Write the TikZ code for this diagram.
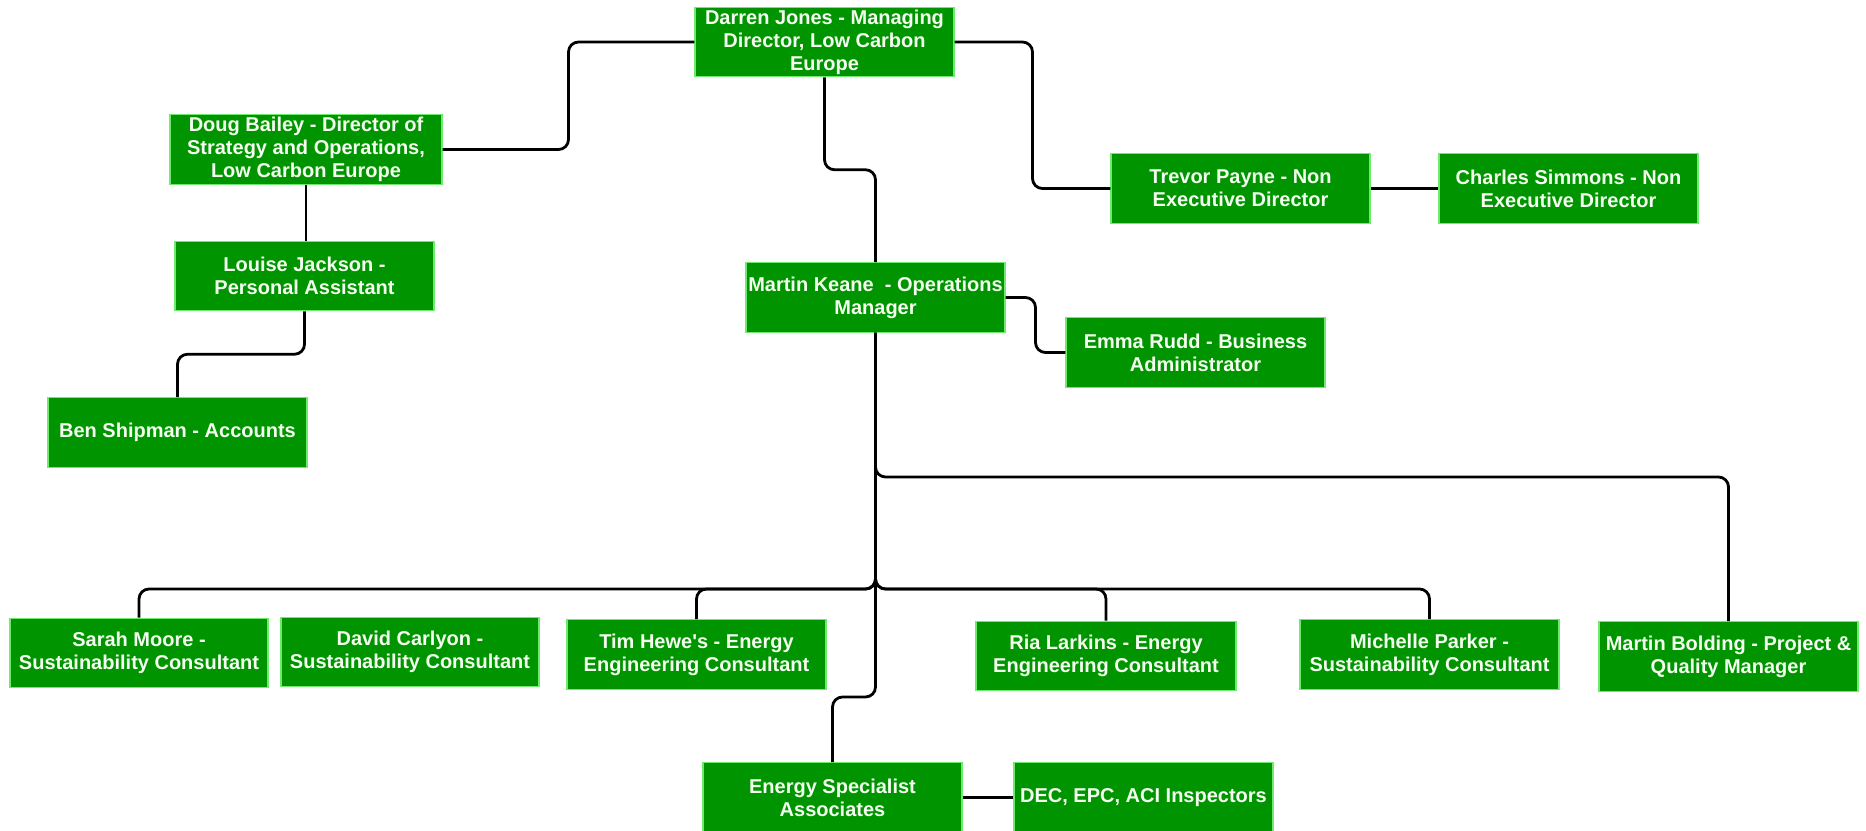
\documentclass[tikz,border=0pt]{standalone}
\usepackage{fontspec}
\setmainfont{Liberation Sans}
\usetikzlibrary{calc}
\definecolor{boxgreen}{RGB}{0,148,0}
\definecolor{boxedge}{RGB}{110,235,110}
\definecolor{boxtext}{RGB}{244,255,240}
\tikzset{
  orgbox/.style={rectangle, fill=boxgreen, draw=boxedge, line width=0.6pt,
    text=boxtext, font=\bfseries\fontsize{10pt}{11.5pt}\selectfont,
    align=center, inner sep=0pt, minimum width=129.5pt, minimum height=34.75pt},
  conn/.style={draw=black, line width=1.4pt, rounded corners=5pt},
  thinconn/.style={draw=black, line width=0.9pt}
}
\begin{document}
\begin{tikzpicture}[x=0.5pt, y=-0.5pt]
\useasboundingbox[fill=white] (0,0) rectangle (1866,830);

\coordinate (busmid) at (875.5,589);
\coordinate (boldbus) at (875.5,477);
\coordinate (enbus) at (875.5,697);

\node[orgbox] (darren) at (824.5,42) {Darren Jones - Managing\\Director, Low Carbon\\Europe};
\node[orgbox, minimum width=136pt] (doug) at (306,149.5) {Doug Bailey - Director of\\Strategy and Operations,\\Low Carbon Europe};
\node[orgbox] (louise) at (304.5,276) {Louise Jackson -\\Personal Assistant};
\node[orgbox] (keane) at (875.5,297.5) {Martin Keane\ \ - Operations\\Manager};
\node[orgbox] (trevor) at (1240.5,188.5) {Trevor Payne - Non\\Executive Director};
\node[orgbox] (charles) at (1568.5,188.5) {Charles Simmons - Non\\Executive Director};
\node[orgbox] (emma) at (1195.5,352.5) {Emma Rudd - Business\\Administrator};
\node[orgbox] (ben) at (177.5,432.5) {Ben Shipman - Accounts};
\node[orgbox, minimum width=129pt] (sarah) at (139,653) {Sarah Moore -\\Sustainability Consultant};
\node[orgbox, minimum width=129pt] (david) at (410,652) {David Carlyon -\\Sustainability Consultant};
\node[orgbox] (tim) at (696.5,654.5) {Tim Hewe\textquotesingle s - Energy\\Engineering Consultant};
\node[orgbox, minimum width=130pt] (ria) at (1106,656) {Ria Larkins - Energy\\Engineering Consultant};
\node[orgbox] (michelle) at (1429.5,654.5) {Michelle Parker -\\Sustainability Consultant};
\node[orgbox] (bolding) at (1728.5,656.5) {Martin Bolding - Project \&\\Quality Manager};
\node[orgbox] (energy) at (832.5,797.5) {Energy Specialist\\Associates};
\node[orgbox] (dec) at (1143.5,797.5) {DEC, EPC, ACI Inspectors};

\draw[conn] (darren.west) -| ($(darren.west)!.5!(doug.east)$) |- (doug.east);
\draw[conn] (darren.south) |- ($(darren.south)!.5!(keane.north)$) -| (keane.north);
\draw[conn] (darren.east) -| ($(darren.east)!.5!(trevor.west)$) |- (trevor.west);
\draw[conn] (trevor.east) -- (charles.west);
\draw[conn] (keane.east) -| ($(keane.east)!.5!(emma.west)$) |- (emma.west);
\draw[thinconn] (doug.south) -- (doug.south |- louise.north);
\draw[conn] (louise.south) |- ($(louise.south)!.5!(ben.north)$) -| (ben.north);
\draw[conn] (keane.south) -- (busmid) -| (sarah.north);
\draw[conn] (keane.south) -- (busmid) -| (tim.north);
\draw[conn] (keane.south) -- (busmid) -| (ria.north);
\draw[conn] (keane.south) -- (busmid) -| (michelle.north);
\draw[conn] (keane.south) -- (boldbus) -| (bolding.north);
\draw[conn] (keane.south) -- (enbus) -| (energy.north);
\draw[conn] (energy.east) -- (dec.west);
\end{tikzpicture}
\end{document}
